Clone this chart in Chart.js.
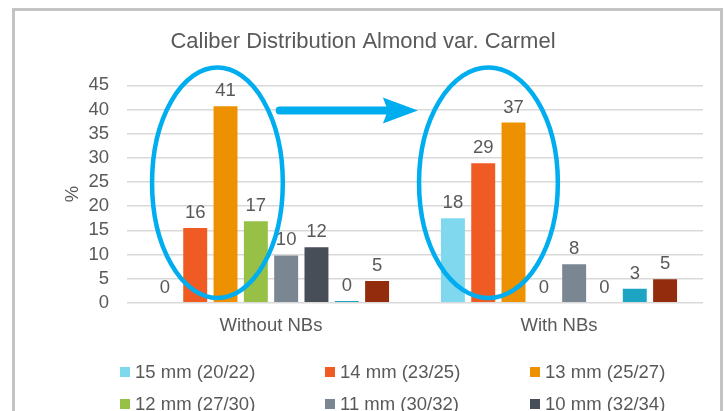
<!DOCTYPE html>
<html>
<head>
<meta charset="utf-8">
<script src="https://cdn.jsdelivr.net/npm/chart.js@4.4.0/dist/chart.umd.min.js"></script>
<style>
html,body{margin:0;padding:0;background:#fff;overflow:hidden}
#wrap{width:728px;height:411px;position:relative}
canvas{display:block}
</style>
</head>
<body>
<div id="wrap"><canvas id="c" width="728" height="411"></canvas></div>
<script>
// ---- data ----
const titleText = 'Caliber Distribution Almond var. Carmel';
const categories = ['Without NBs', 'With NBs'];
const seriesNames = ['15 mm (20/22)', '14 mm (23/25)', '13 mm (25/27)', '12 mm (27/30)', '11 mm (30/32)', '10 mm (32/34)', '9 mm (34/36)', '8 mm (36/40)'];
const s15 = [0, 17.5];
const s14 = [15.5, 28.9];
const s13 = [40.7, 37.3];
const s12 = [16.9, 0];
const s11 = [9.8, 8.0];
const s10 = [11.5, 0];
const s9 = [0.35, 2.9];
const s8 = [4.5, 4.9];
const yTicks = [0, 5, 10, 15, 20, 25, 30, 35, 40, 45];

// ---- styles ----
const seriesColors = ['#7fd8ee', '#f05a23', '#ed9100', '#97c146', '#7b8693', '#474e58', '#1ca4c2', '#922c0d'];
const FONT = "'Liberation Sans', Arial, sans-serif";
const TXT = '#595959';
const BLUE = '#00adef';

const allSeries = [s15, s14, s13, s12, s11, s10, s9, s8];

// frame + background
const framePlugin = {
  id: 'frame',
  beforeDraw(chart) {
    const ctx = chart.ctx;
    ctx.save();
    ctx.fillStyle = '#ffffff';
    ctx.fillRect(0, 0, chart.width, chart.height);
    ctx.strokeStyle = '#c3c3c3';
    ctx.lineWidth = 3;
    ctx.strokeRect(13.5, 9.5, 708, 440);
    ctx.restore();
  }
};

// value labels
const valuePlugin = {
  id: 'values',
  afterDatasetsDraw(chart) {
    const ctx = chart.ctx;
    ctx.save();
    ctx.font = '18.5px ' + FONT;
    ctx.fillStyle = TXT;
    ctx.textAlign = 'center';
    ctx.textBaseline = 'alphabetic';
    chart.data.datasets.forEach((ds, i) => {
      const meta = chart.getDatasetMeta(i);
      meta.data.forEach((bar, j) => {
        ctx.fillText(String(Math.round(ds.data[j])), bar.x, bar.y - 10);
      });
    });
    ctx.restore();
  }
};

// custom legend (3 columns)
const legendPlugin = {
  id: 'gridLegend',
  afterDraw(chart) {
    const ctx = chart.ctx;
    ctx.save();
    ctx.font = '18.5px ' + FONT;
    ctx.textBaseline = 'middle';
    ctx.textAlign = 'left';
    const x0 = 120, colW = 205, y0 = 372, rowH = 32;
    chart.data.datasets.forEach((ds, i) => {
      const col = i % 3, row = Math.floor(i / 3);
      const bx = x0 + col * colW, cy = y0 + row * rowH;
      ctx.fillStyle = ds.backgroundColor;
      ctx.fillRect(bx, cy - 5, 10, 10);
      ctx.fillStyle = TXT;
      ctx.fillText(ds.label, bx + 15, cy + 1);
    });
    ctx.restore();
  }
};

// annotation overlay: ellipses and arrow
const overlayPlugin = {
  id: 'overlay',
  afterDraw(chart) {
    const ctx = chart.ctx;
    const xs = chart.scales.x, ys = chart.scales.y;
    const catW = xs.width / categories.length;
    const xOf = (i, f) => xs.getPixelForValue(i) + f * catW;
    ctx.save();
    ctx.strokeStyle = BLUE;
    ctx.fillStyle = BLUE;
    ctx.lineWidth = 4.5;
    const ells = [
      {c: 0, f: -0.186, rx: 0.227},
      {c: 1, f: -0.245, rx: 0.241}
    ];
    const cy = (ys.getPixelForValue(48.7) + ys.getPixelForValue(1.0)) / 2;
    const ry = (ys.getPixelForValue(1.0) - ys.getPixelForValue(48.7)) / 2;
    ells.forEach(e => {
      ctx.beginPath();
      ctx.ellipse(xOf(e.c, e.f), cy, e.rx * catW, ry, 0, 0, Math.PI * 2);
      ctx.stroke();
    });
    // arrow
    const ay = ys.getPixelForValue(39.8);
    const xStart = xOf(0, 0.03);
    const xTip = xOf(1, -0.49);
    ctx.lineWidth = 8;
    ctx.lineCap = 'round';
    ctx.beginPath();
    ctx.moveTo(xStart, ay);
    ctx.lineTo(xTip - 28, ay);
    ctx.stroke();
    ctx.beginPath();
    ctx.moveTo(xTip, ay);
    ctx.lineTo(xTip - 35, ay - 13);
    ctx.lineTo(xTip - 30, ay);
    ctx.lineTo(xTip - 35, ay + 13);
    ctx.closePath();
    ctx.fill();
    ctx.restore();
  }
};

const datasets = allSeries.map((d, i) => ({
  label: seriesNames[i],
  data: d,
  backgroundColor: seriesColors[i],
  borderWidth: 0,
  categoryPercentage: 0.842,
  barPercentage: 0.79
}));

new Chart(document.getElementById('c'), {
  type: 'bar',
  data: { labels: categories, datasets },
  options: {
    responsive: false,
    animation: false,
    devicePixelRatio: 1,
    layout: { padding: { left: 23, right: 25, top: 9, bottom: 62 } },
    plugins: {
      legend: { display: false },
      tooltip: { enabled: false },
      title: {
        display: true,
        text: titleText,
        color: TXT,
        font: { family: FONT, size: 22, weight: 'normal' },
        padding: { top: 20, bottom: 30 }
      }
    },
    scales: {
      x: {
        grid: { display: false, drawTicks: false },
        border: { display: false },
        ticks: { color: TXT, font: { family: FONT, size: 18.5 }, padding: 12 }
      },
      y: {
        min: 0,
        max: 45,
        afterBuildTicks: (s) => { s.ticks = yTicks.map(v => ({ value: v })); },
        afterFit: (s) => { s.width = 104; },
        grid: { color: '#d9d9d9', lineWidth: 1.5, drawTicks: false },
        border: { display: false },
        ticks: { color: TXT, font: { family: FONT, size: 18.5 }, padding: 18, autoSkip: false },
        title: {
          display: true,
          text: '%',
          color: TXT,
          font: { family: FONT, size: 18.5 },
          padding: { top: 39, bottom: 0 }
        }
      }
    }
  },
  plugins: [framePlugin, valuePlugin, legendPlugin, overlayPlugin]
});
</script>
</body>
</html>
